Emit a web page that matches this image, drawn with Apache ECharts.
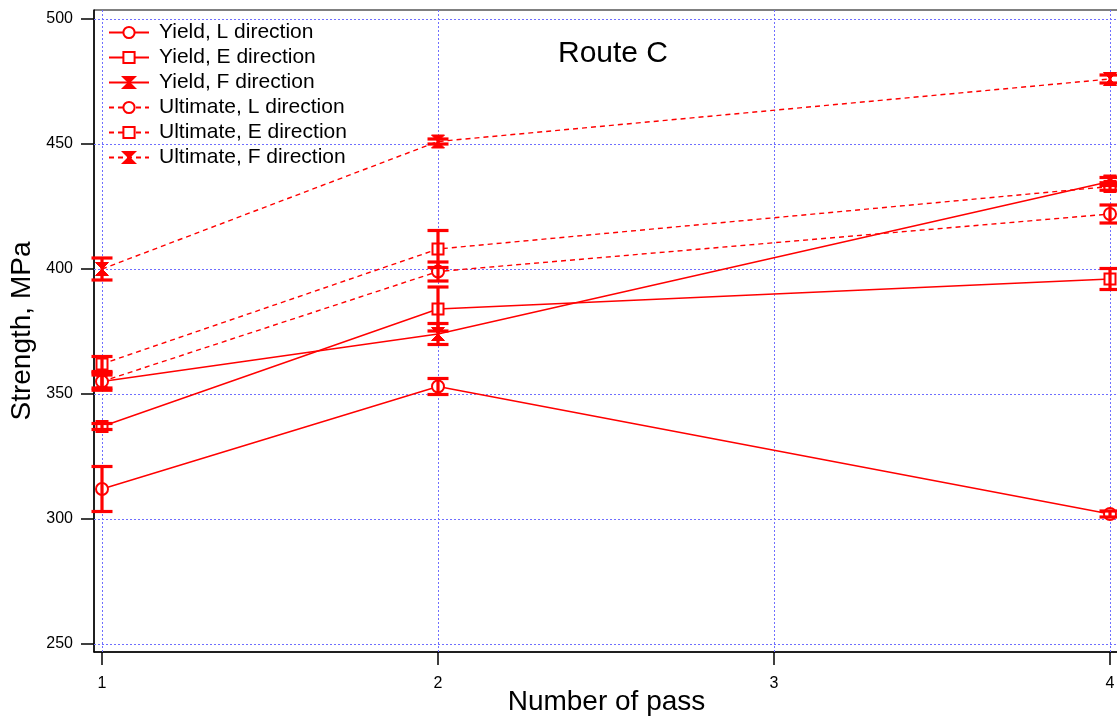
<!DOCTYPE html>
<html>
<head>
<meta charset="utf-8">
<script src="https://cdn.jsdelivr.net/npm/echarts@6/dist/echarts.min.js"></script>
<style>
  html, body { margin: 0; padding: 0; background: #fff; }
  #chart { width: 1117px; height: 720px; }
</style>
</head>
<body>
<div id="chart"></div>
<script>
// data
const passes = [1, 2, 4];
const xTicks = [1, 2, 3, 4];
const yTicks = [250, 300, 350, 400, 450, 500];

const yieldL = [312, 353, 302];
const yieldLErr = [9, 3.2, 1.2];
const yieldE = [337, 384, 396];
const yieldEErr = [1.2, 8.8, 4.2];
const yieldF = [355, 374, 435];
const yieldFErr = [3.5, 4.2, 1.6];
const ultL = [355, 399, 422];
const ultLErr = [2.6, 3.8, 3.6];
const ultE = [362, 408, 433];
const ultEErr = [3, 7.4, 1.5];
const ultF = [400, 451, 476];
const ultFErr = [4.4, 1, 1.6];

const red = '#ff0000';
const bowtie = 'path://M0,0 L10,0 L5,5 L10,10 L0,10 L5,5 Z';
const font = 'Liberation Sans, Arial, sans-serif';

const lineSeries = (name, vals, symbol, size, dashed) => ({
  name: name,
  type: 'line',
  data: passes.map((p, i) => [p, vals[i]]),
  symbol: symbol,
  symbolSize: size,
  showAllSymbol: true,
  color: red,
  lineStyle: { color: red, width: 1.4, type: dashed ? [5, 4] : 'solid' },
  itemStyle: { color: red, borderColor: red, borderWidth: 1 },
  z: 4
});

const errSeries = (vals, errs) => ({
  type: 'custom',
  silent: true,
  data: passes.map((p, i) => [p, vals[i] - errs[i], vals[i] + errs[i]]),
  encode: { x: 0, y: [1, 2] },
  renderItem: (params, api) => {
    const lo = api.coord([api.value(0), api.value(1)]);
    const hi = api.coord([api.value(0), api.value(2)]);
    const w = 10.5;
    const st = { stroke: red, lineWidth: 3.2 };
    return {
      type: 'group',
      children: [
        { type: 'line', shape: { x1: lo[0], y1: lo[1], x2: hi[0], y2: hi[1] }, style: st },
        { type: 'line', shape: { x1: lo[0] - w, y1: lo[1], x2: lo[0] + w, y2: lo[1] }, style: st },
        { type: 'line', shape: { x1: hi[0] - w, y1: hi[1], x2: hi[0] + w, y2: hi[1] }, style: st }
      ]
    };
  },
  z: 5
});

// dotted blue grid lines at the tick values
const gridSeries = {
  type: 'line',
  data: [],
  silent: true,
  markLine: {
    silent: true,
    symbol: 'none',
    z: 1,
    label: { show: false },
    lineStyle: { color: '#6f6fff', width: 1, type: [2, 2] },
    emphasis: { disabled: true },
    data: xTicks.map(v => ({ xAxis: v })).concat(yTicks.map(v => ({ yAxis: v })))
  }
};

const chart = echarts.init(document.getElementById('chart'));
const option = {
  animation: false,
  backgroundColor: '#fff',
  title: {
    text: 'Route C',
    left: 608,
    top: 34,
    textAlign: 'center',
    textStyle: { fontFamily: font, fontSize: 30, fontWeight: 'normal', color: '#000' }
  },
  legend: {
    orient: 'vertical',
    left: 103,
    top: 15,
    itemWidth: 40,
    itemHeight: 14,
    itemGap: 0,
    data: ['Yield, L direction', 'Yield, E direction', 'Yield, F direction',
      'Ultimate, L direction', 'Ultimate, E direction', 'Ultimate, F direction'],
    textStyle: { fontFamily: font, fontSize: 21, lineHeight: 25, color: '#000', padding: [0, 0, 0, 5] }
  },
  grid: {
    left: 94,
    right: -2,
    top: 10,
    bottom: 68,
    outerBoundsMode: 'none',
    containLabel: false,
    show: true,
    borderColor: '#000',
    borderWidth: 1
  },
  xAxis: {
    type: 'value',
    min: 1 - 8 / 336,
    max: 4 + 9 / 336,
    name: 'Number of pass',
    nameLocation: 'middle',
    nameGap: 36,
    nameMoveOverlap: false,
    nameTextStyle: { fontFamily: font, fontSize: 28, color: '#000' },
    axisLine: { show: true, onZero: false, lineStyle: { color: '#000', width: 1.5 } },
    axisTick: { show: true, inside: false, length: 13, customValues: xTicks, lineStyle: { color: '#000', width: 1.5 } },
    axisLabel: { customValues: xTicks, margin: 24, fontFamily: font, fontSize: 16, color: '#000' },
    splitLine: { show: false }
  },
  yAxis: {
    type: 'value',
    min: 250 - 8 / 2.5,
    max: 500 + 9 / 2.5,
    name: 'Strength, MPa',
    nameLocation: 'middle',
    nameGap: 58,
    nameMoveOverlap: false,
    nameTextStyle: { fontFamily: font, fontSize: 28, color: '#000' },
    axisLine: { show: true, lineStyle: { color: '#000', width: 1.5 } },
    axisTick: { show: true, inside: false, length: 13, customValues: yTicks, lineStyle: { color: '#000', width: 1.5 } },
    axisLabel: { customValues: yTicks, margin: 21, fontFamily: font, fontSize: 16, color: '#000' },
    splitLine: { show: false }
  },
  series: [
    gridSeries,
    lineSeries('Yield, L direction', yieldL, 'emptyCircle', 12, false),
    lineSeries('Yield, E direction', yieldE, 'emptyRect', 11, false),
    lineSeries('Yield, F direction', yieldF, bowtie, 13, false),
    lineSeries('Ultimate, L direction', ultL, 'emptyCircle', 12, true),
    lineSeries('Ultimate, E direction', ultE, 'emptyRect', 11, true),
    lineSeries('Ultimate, F direction', ultF, bowtie, 13, true),
    errSeries(yieldL, yieldLErr),
    errSeries(yieldE, yieldEErr),
    errSeries(yieldF, yieldFErr),
    errSeries(ultL, ultLErr),
    errSeries(ultE, ultEErr),
    errSeries(ultF, ultFErr)
  ]
};
chart.setOption(option);
</script>
</body>
</html>
